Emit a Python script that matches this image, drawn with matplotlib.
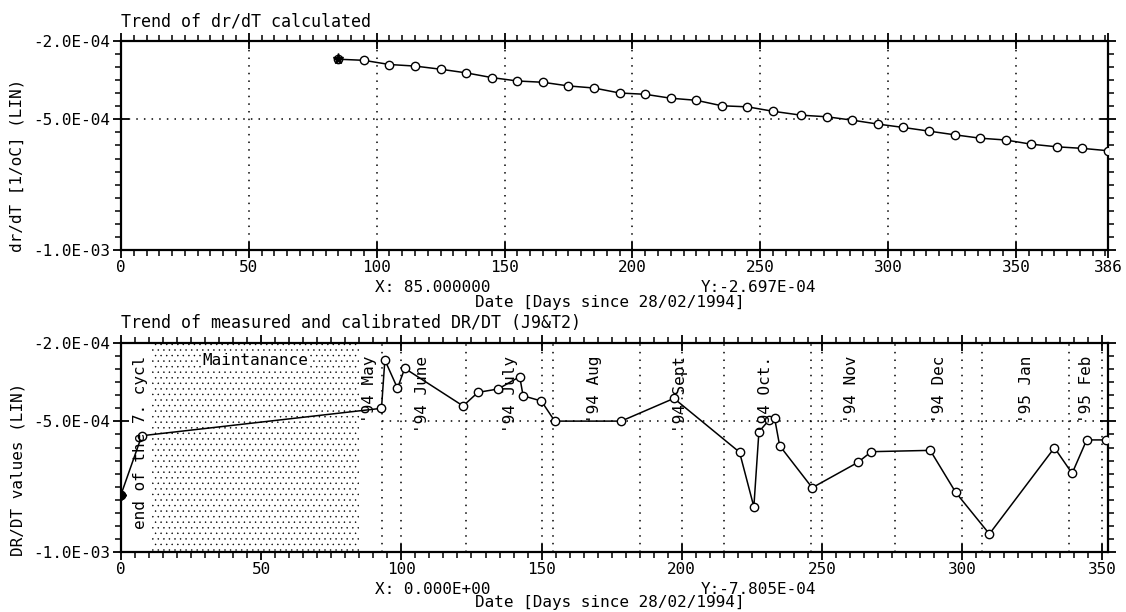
import numpy as np
import matplotlib
matplotlib.use("Agg")
import matplotlib.pyplot as plt
from matplotlib.ticker import FixedLocator, MultipleLocator
import matplotlib.transforms as mtransforms

plt.rcParams['font.family'] = ['DejaVu Sans Mono']
plt.rcParams['hatch.linewidth'] = 0.3

# top chart: calculated trend
top_days = [85, 95, 105, 115, 125, 135, 145, 155, 165, 175, 185, 195, 205, 215, 225,
            235, 245, 255, 266, 276, 286, 296, 306, 316, 326, 336, 346, 356, 366, 376, 386]
top_vals = [-2.697, -2.74, -2.90, -2.96, -3.08, -3.22, -3.40, -3.53, -3.58, -3.72, -3.80,
            -3.99, -4.04, -4.19, -4.27, -4.48, -4.52, -4.69, -4.84, -4.90, -5.03, -5.18,
            -5.31, -5.45, -5.59, -5.72, -5.79, -5.95, -6.05, -6.11, -6.20]

# bottom chart: measured and calibrated
bot_days = [0, 7.4, 92.9, 94.1, 98.6, 101.2, 122.0, 127.3, 134.5, 142.2, 143.4, 149.9,
            154.7, 178.4, 197.2, 220.6, 225.7, 227.5, 231.1, 233.1, 234.9, 246.5, 262.8,
            267.6, 288.6, 297.7, 309.7, 332.9, 339.2, 344.4, 351.3]
bot_vals = [-7.805, -5.55, -4.50, -2.65, -3.73, -2.97, -4.41, -3.89, -3.76, -3.29, -4.02,
            -4.22, -4.99, -4.99, -4.12, -6.18, -8.27, -5.40, -4.95, -4.88, -5.93, -7.54,
            -6.57, -6.16, -6.11, -7.72, -9.31, -6.01, -6.99, -5.71, -5.71]

month_starts = [62, 93, 123, 154, 185, 215, 246, 276, 307, 338]
month_labels = ["'94 May", "'94 June", "'94 July", "'94 Aug", "'94 Sept", "'94 Oct.",
                "'94 Nov", "'94 Dec", "'95 Jan", "'95 Feb"]
month_label_x = [88.7, 107.6, 138.8, 168.8, 199.4, 230.0, 260.7, 291.9, 322.8, 344.2]
maint_start, maint_end = 11, 85

ytick_vals = [-1e-3, -5e-4, -2e-4]
ytick_labels = ["-1.0E-03", "-5.0E-04", "-2.0E-04"]

W, H = 1126, 612
fig = plt.figure(figsize=(W / 100, H / 100), dpi=100)

def px(x0, y0, x1, y1):
    return [x0 / W, 1 - y1 / H, (x1 - x0) / W, (y1 - y0) / H]

dot = (0, (1, 4))
fs = 11.5

def style_axes(ax, xmax, xticks, xlabels):
    ax.set_xlim(0, xmax)
    ax.set_ylim(-1e-3, -2e-4)
    ax.xaxis.set_major_locator(FixedLocator(xticks))
    ax.set_xticklabels(xlabels)
    ax.xaxis.set_minor_locator(MultipleLocator(5))
    ax.yaxis.set_major_locator(FixedLocator(ytick_vals))
    ax.set_yticklabels(ytick_labels)
    ax.yaxis.set_minor_locator(MultipleLocator(5e-5))
    ax.tick_params(which='both', top=True, right=True, labelsize=fs, width=1.3)
    ax.tick_params(which='major', direction='inout', length=11, pad=2)
    ax.tick_params(which='minor', direction='out', length=4, width=1.1)
    for s in ax.spines.values():
        s.set_linewidth(1.6)

# ---- top chart ----
ax1 = fig.add_axes(px(121, 41, 1108, 250))
style_axes(ax1, 386, list(range(0, 351, 50)) + [386],
           [str(v) for v in range(0, 351, 50)] + ["386"])
for g in range(50, 351, 50):
    ax1.axvline(g, color='k', ls=dot, lw=1.1, zorder=1)
ax1.axhline(-5e-4, color='k', ls=dot, lw=1.1, zorder=1)
ax1.plot(np.array(top_days), np.array(top_vals) * 1e-4, color='k', lw=1.1,
         marker='o', ms=6, mfc='white', mec='k', mew=1.0, zorder=3)
ax1.plot(top_days[0], top_vals[0] * 1e-4, marker='*', ms=8, color='k', zorder=4)

fig.text(121 / W, 1 - 21 / H, "Trend of dr/dT calculated", fontsize=12, va='center')
fig.text(17 / W, 1 - 252 / H, "dr/dT [1/oC] (LIN)", fontsize=fs, rotation=90,
         ha='center', va='bottom')
fig.text(375 / W, 1 - 288 / H, "X: 85.000000", fontsize=fs, va='center')
fig.text(701 / W, 1 - 288 / H, "Y:-2.697E-04", fontsize=fs, va='center')
fig.text(610 / W, 1 - 302 / H, "Date [Days since 28/02/1994]", fontsize=fs,
         ha='center', va='center')

# ---- bottom chart ----
ax2 = fig.add_axes(px(121, 343, 1108, 552))
style_axes(ax2, 352, list(range(0, 351, 50)), [str(v) for v in range(0, 351, 50)])
for g in sorted(set(list(range(50, 351, 50)) + month_starts)):
    ax2.axvline(g, color='k', ls=dot, lw=1.1, zorder=1)
ax2.hlines(-5e-4, month_starts[1], 352, color='k', ls=dot, lw=1.1, zorder=1)
ax2.axvspan(maint_start, maint_end, facecolor='white', edgecolor='k', hatch='...',
            lw=0, zorder=2)
ax2.plot(np.array(bot_days), np.array(bot_vals) * 1e-4, color='k', lw=1.1,
         marker='o', ms=6, mfc='white', mec='k', mew=1.0, zorder=3)
ax2.plot(bot_days[0], bot_vals[0] * 1e-4, marker='D', ms=5, color='k', zorder=4)

trans = mtransforms.blended_transform_factory(ax2.transData, ax2.transAxes)
for xm, lab in zip(month_label_x, month_labels):
    ax2.text(xm, 0.94, lab, transform=trans, rotation=90, ha='center', va='top',
             fontsize=fs, zorder=5)
ax2.text(48, 0.915, "Maintanance", transform=trans, ha='center', va='center',
         fontsize=fs, zorder=5,
         bbox=dict(facecolor='white', edgecolor='none', pad=1))
ax2.text(6.8, 0.94, "end of the 7. cycl", transform=trans, rotation=90,
         ha='center', va='top', fontsize=fs, zorder=5)

fig.text(121 / W, 1 - 323 / H, "Trend of measured and calibrated DR/DT (J9&T2)",
         fontsize=12, va='center')
fig.text(18 / W, 1 - 556 / H, "DR/DT values (LIN)", fontsize=fs, rotation=90,
         ha='center', va='bottom')
fig.text(375 / W, 1 - 590 / H, "X: 0.000E+00", fontsize=fs, va='center')
fig.text(701 / W, 1 - 590 / H, "Y:-7.805E-04", fontsize=fs, va='center')
fig.text(610 / W, 1 - 603 / H, "Date [Days since 28/02/1994]", fontsize=fs,
         ha='center', va='center')

fig.savefig("out.png", dpi=100)
